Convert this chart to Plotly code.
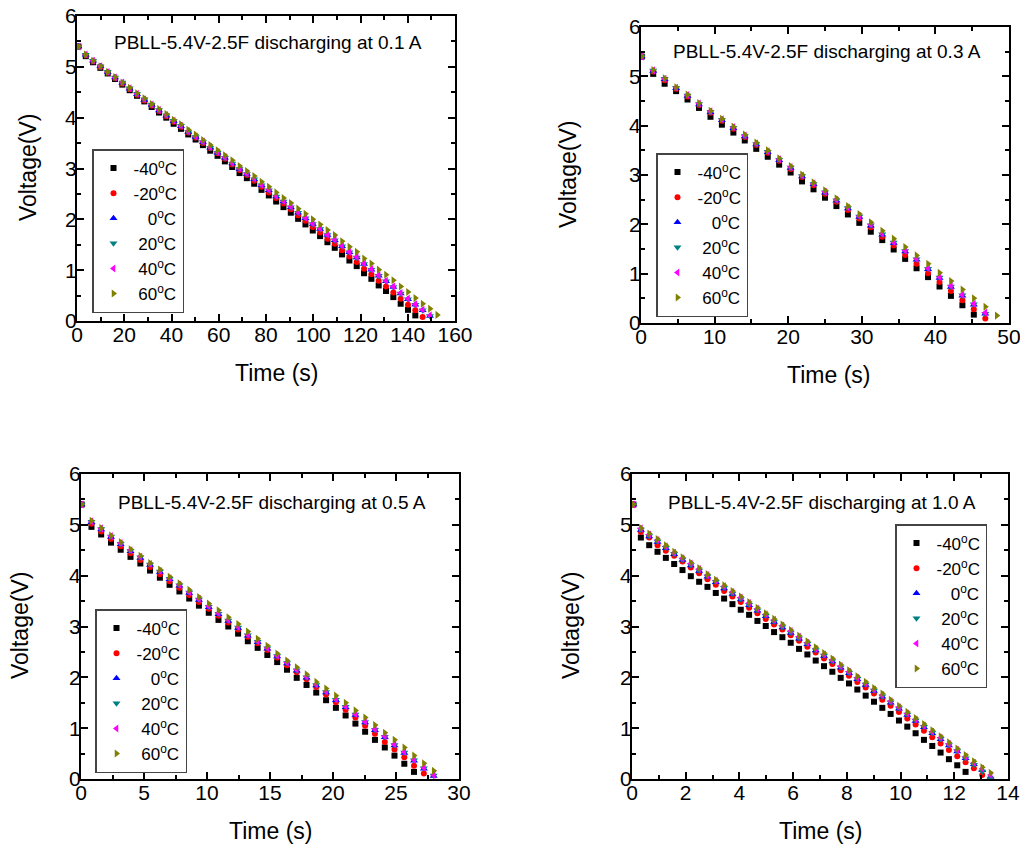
import plotly.graph_objects as go

# ---- data -------------------------------------------------------------------

TEMPS = ["-40", "-20", "0", "20", "40", "60"]
LEGEND_NAMES = [
    "-40<sup>o</sup>C",
    "-20<sup>o</sup>C",
    "\u00a0\u00a0\u00a00<sup>o</sup>C",
    "\u00a020<sup>o</sup>C",
    "\u00a040<sup>o</sup>C",
    "\u00a060<sup>o</sup>C",
]
CURRENTS = ["0.1", "0.3", "0.5", "1.0"]

# 0.1 A
T1 = [0.6, 3.7, 6.8, 9.9, 13.0, 16.1, 19.2, 22.3, 25.4, 28.5, 31.6, 34.7, 37.8, 40.9, 44.0, 47.1,
      50.2, 53.3, 56.4, 59.5, 62.6, 65.7, 68.8, 71.9, 75.0, 78.1, 81.2, 84.3, 87.4, 90.5, 93.6, 96.7,
      99.8, 102.9, 106.0, 109.1, 112.2, 115.3, 118.4, 121.5, 124.6, 127.7, 130.8, 133.9, 137.0,
      140.1, 143.2, 146.3, 149.4, 152.5]
V1_M40 = [5.40, 5.21, 5.09, 4.98, 4.87, 4.76, 4.65, 4.54, 4.43, 4.32, 4.21, 4.10, 4.00, 3.88, 3.78,
          3.67, 3.57, 3.46, 3.35, 3.25, 3.14, 3.03, 2.91, 2.81, 2.70, 2.58, 2.47, 2.35, 2.24, 2.13,
          2.01, 1.90, 1.78, 1.67, 1.55, 1.44, 1.31, 1.19, 1.08, 0.94, 0.83, 0.70, 0.59, 0.47, 0.34,
          0.22, 0.11]
V1_M20 = [5.40, 5.23, 5.11, 5.00, 4.89, 4.78, 4.67, 4.56, 4.45, 4.34, 4.24, 4.13, 4.03, 3.92, 3.82,
          3.71, 3.61, 3.50, 3.40, 3.30, 3.19, 3.08, 2.97, 2.87, 2.76, 2.64, 2.53, 2.42, 2.31, 2.20,
          2.08, 1.97, 1.85, 1.74, 1.62, 1.52, 1.39, 1.27, 1.16, 1.03, 0.92, 0.79, 0.68, 0.56, 0.44,
          0.32, 0.21, 0.08]
V1_0 = [5.40, 5.24, 5.12, 5.01, 4.90, 4.79, 4.68, 4.57, 4.46, 4.35, 4.25, 4.14, 4.04, 3.93, 3.83,
        3.72, 3.62, 3.52, 3.41, 3.31, 3.21, 3.10, 2.99, 2.89, 2.79, 2.67, 2.57, 2.45, 2.35, 2.24,
        2.13, 2.02, 1.91, 1.81, 1.69, 1.59, 1.47, 1.35, 1.25, 1.12, 1.01, 0.89, 0.78, 0.67, 0.54,
        0.43, 0.32, 0.21, 0.10]
V1_20 = [5.40, 5.24, 5.12, 5.01, 4.90, 4.79, 4.69, 4.58, 4.47, 4.36, 4.26, 4.15, 4.05, 3.94, 3.84,
         3.72, 3.62, 3.52, 3.41, 3.31, 3.21, 3.10, 2.99, 2.89, 2.79, 2.67, 2.57, 2.45, 2.35, 2.24,
         2.13, 2.02, 1.91, 1.81, 1.69, 1.59, 1.47, 1.35, 1.25, 1.12, 1.01, 0.89, 0.78, 0.67, 0.54,
         0.43, 0.32, 0.21, 0.10]
V1_40 = [5.40, 5.24, 5.12, 5.01, 4.90, 4.79, 4.69, 4.58, 4.47, 4.36, 4.26, 4.15, 4.05, 3.94, 3.84,
         3.73, 3.63, 3.53, 3.42, 3.32, 3.22, 3.11, 3.00, 2.90, 2.80, 2.68, 2.58, 2.46, 2.36, 2.25,
         2.14, 2.03, 1.92, 1.82, 1.70, 1.60, 1.48, 1.36, 1.26, 1.13, 1.02, 0.90, 0.79, 0.68, 0.55,
         0.44, 0.33, 0.22, 0.11]
V1_60 = [5.40, 5.24, 5.12, 5.01, 4.90, 4.80, 4.69, 4.59, 4.48, 4.38, 4.27, 4.17, 4.07, 3.96, 3.87,
         3.76, 3.67, 3.56, 3.46, 3.36, 3.26, 3.16, 3.05, 2.95, 2.85, 2.74, 2.64, 2.53, 2.42, 2.32,
         2.21, 2.11, 2.00, 1.90, 1.79, 1.69, 1.57, 1.46, 1.36, 1.23, 1.13, 1.01, 0.91, 0.80, 0.68,
         0.57, 0.45, 0.34, 0.24, 0.12]

# 0.3 A
T2 = [0.1, 1.66, 3.21, 4.77, 6.32, 7.88, 9.44, 10.99, 12.55, 14.10, 15.66, 17.22, 18.77, 20.33,
      21.88, 23.44, 25.00, 26.55, 28.11, 29.66, 31.22, 32.78, 34.33, 35.89, 37.44, 39.00, 40.56,
      42.11, 43.67, 45.22, 46.78, 48.34]
V2_M40 = [5.40, 5.05, 4.85, 4.70, 4.53, 4.36, 4.18, 4.02, 3.86, 3.70, 3.53, 3.37, 3.21, 3.05, 2.87,
          2.71, 2.54, 2.37, 2.20, 2.03, 1.85, 1.68, 1.49, 1.30, 1.11, 0.93, 0.74, 0.55, 0.36, 0.17]
V2_M20 = [5.40, 5.10, 4.92, 4.75, 4.59, 4.42, 4.26, 4.10, 3.94, 3.77, 3.61, 3.45, 3.29, 3.12, 2.96,
          2.79, 2.62, 2.46, 2.29, 2.12, 1.94, 1.75, 1.57, 1.38, 1.20, 1.01, 0.83, 0.65, 0.46, 0.28,
          0.09]
V2_0 = [5.40, 5.11, 4.94, 4.76, 4.60, 4.43, 4.27, 4.11, 3.95, 3.78, 3.62, 3.46, 3.30, 3.14, 2.97,
        2.81, 2.64, 2.48, 2.32, 2.15, 1.97, 1.79, 1.62, 1.45, 1.28, 1.09, 0.91, 0.73, 0.55, 0.37,
        0.19]
V2_20 = [5.40, 5.12, 4.95, 4.77, 4.61, 4.44, 4.28, 4.12, 3.96, 3.79, 3.63, 3.47, 3.31, 3.15, 2.98,
         2.82, 2.65, 2.49, 2.33, 2.16, 1.98, 1.80, 1.63, 1.46, 1.29, 1.10, 0.92, 0.74, 0.56, 0.38,
         0.19]
V2_40 = [5.40, 5.12, 4.95, 4.77, 4.62, 4.45, 4.29, 4.13, 3.97, 3.80, 3.64, 3.48, 3.32, 3.16, 2.99,
         2.83, 2.66, 2.50, 2.34, 2.17, 1.99, 1.81, 1.64, 1.47, 1.30, 1.11, 0.93, 0.75, 0.57, 0.39,
         0.21]
V2_60 = [5.40, 5.13, 4.96, 4.78, 4.63, 4.46, 4.30, 4.14, 3.98, 3.82, 3.66, 3.50, 3.34, 3.18, 3.01,
         2.85, 2.69, 2.53, 2.37, 2.21, 2.04, 1.87, 1.71, 1.54, 1.37, 1.20, 1.02, 0.85, 0.68, 0.50,
         0.33, 0.15]

# 0.5 A
T3 = [0.05, 0.83, 1.60, 2.38, 3.15, 3.93, 4.71, 5.48, 6.26, 7.03, 7.81, 8.59, 9.36, 10.14, 10.91,
      11.69, 12.47, 13.24, 14.02, 14.79, 15.57, 16.35, 17.12, 17.90, 18.67, 19.45, 20.23, 21.00,
      21.78, 22.55, 23.33, 24.11, 24.88, 25.66, 26.43, 27.21, 27.99]
V3_M40 = [5.40, 4.96, 4.81, 4.65, 4.51, 4.37, 4.24, 4.10, 3.96, 3.82, 3.69, 3.55, 3.41, 3.27, 3.13,
          3.00, 2.86, 2.71, 2.58, 2.44, 2.30, 2.15, 1.99, 1.85, 1.70, 1.55, 1.40, 1.25, 1.09, 0.93,
          0.77, 0.62, 0.46, 0.30, 0.14]
V3_M20 = [5.40, 5.02, 4.87, 4.72, 4.58, 4.44, 4.31, 4.17, 4.03, 3.89, 3.76, 3.62, 3.48, 3.35, 3.21,
          3.08, 2.94, 2.80, 2.67, 2.54, 2.39, 2.24, 2.10, 1.96, 1.81, 1.66, 1.51, 1.36, 1.21, 1.05,
          0.89, 0.73, 0.58, 0.43, 0.26, 0.11]
V3_0 = [5.40, 5.05, 4.91, 4.76, 4.62, 4.48, 4.35, 4.21, 4.07, 3.93, 3.80, 3.66, 3.52, 3.38, 3.24,
        3.11, 2.97, 2.82, 2.69, 2.56, 2.41, 2.27, 2.13, 1.99, 1.84, 1.70, 1.55, 1.41, 1.26, 1.11,
        0.96, 0.82, 0.66, 0.51, 0.36, 0.20, 0.06]
V3_20 = [5.40, 5.06, 4.92, 4.77, 4.63, 4.49, 4.36, 4.22, 4.08, 3.94, 3.81, 3.67, 3.53, 3.39, 3.25,
         3.12, 2.98, 2.83, 2.70, 2.57, 2.42, 2.28, 2.14, 2.00, 1.85, 1.71, 1.56, 1.42, 1.27, 1.12,
         0.97, 0.83, 0.67, 0.52, 0.37, 0.21, 0.07]
V3_40 = [5.40, 5.07, 4.93, 4.78, 4.64, 4.50, 4.37, 4.23, 4.09, 3.95, 3.82, 3.68, 3.54, 3.40, 3.26,
         3.13, 2.99, 2.84, 2.71, 2.58, 2.43, 2.29, 2.15, 2.01, 1.86, 1.72, 1.57, 1.43, 1.28, 1.13,
         0.98, 0.84, 0.68, 0.53, 0.38, 0.22, 0.08]
V3_60 = [5.40, 5.08, 4.94, 4.79, 4.66, 4.52, 4.39, 4.25, 4.12, 3.98, 3.85, 3.72, 3.58, 3.45, 3.32,
         3.18, 3.05, 2.90, 2.76, 2.62, 2.47, 2.33, 2.20, 2.06, 1.91, 1.78, 1.64, 1.50, 1.35, 1.21,
         1.06, 0.91, 0.77, 0.62, 0.46, 0.31, 0.16]

# 1.0 A
T4 = [0.05, 0.33, 0.64, 0.95, 1.26, 1.57, 1.88, 2.19, 2.50, 2.81, 3.12, 3.43, 3.74, 4.05, 4.36,
      4.67, 4.98, 5.29, 5.60, 5.91, 6.22, 6.53, 6.84, 7.15, 7.46, 7.77, 8.08, 8.39, 8.70, 9.01,
      9.32, 9.63, 9.94, 10.25, 10.56, 10.87, 11.18, 11.49, 11.80, 12.11, 12.42, 12.73, 13.04, 13.35]
V4_M40 = [5.40, 4.75, 4.60, 4.47, 4.35, 4.23, 4.11, 3.99, 3.88, 3.78, 3.66, 3.55, 3.44, 3.33, 3.23,
          3.11, 3.01, 2.89, 2.79, 2.68, 2.56, 2.45, 2.33, 2.22, 2.11, 1.99, 1.88, 1.76, 1.64, 1.52,
          1.40, 1.28, 1.15, 1.03, 0.90, 0.77, 0.65, 0.52, 0.39, 0.27, 0.14]
V4_M20 = [5.40, 4.86, 4.75, 4.60, 4.49, 4.39, 4.28, 4.16, 4.05, 3.93, 3.82, 3.70, 3.59, 3.48, 3.37,
          3.26, 3.15, 3.04, 2.94, 2.83, 2.72, 2.60, 2.49, 2.37, 2.26, 2.14, 2.03, 1.91, 1.80, 1.68,
          1.56, 1.44, 1.32, 1.19, 1.07, 0.95, 0.82, 0.70, 0.57, 0.45, 0.33, 0.21, 0.08]
V4_0 = [5.40, 4.90, 4.77, 4.66, 4.54, 4.42, 4.31, 4.20, 4.09, 3.98, 3.87, 3.75, 3.64, 3.53, 3.42,
        3.31, 3.20, 3.09, 2.98, 2.87, 2.76, 2.65, 2.53, 2.42, 2.31, 2.19, 2.08, 1.96, 1.85, 1.73,
        1.62, 1.50, 1.38, 1.26, 1.14, 1.02, 0.90, 0.78, 0.66, 0.54, 0.41, 0.29, 0.17, 0.04]
V4_20 = [5.40, 4.91, 4.78, 4.67, 4.55, 4.43, 4.32, 4.21, 4.10, 3.99, 3.88, 3.76, 3.65, 3.54, 3.43,
         3.32, 3.21, 3.10, 2.99, 2.88, 2.77, 2.66, 2.54, 2.43, 2.32, 2.20, 2.09, 1.97, 1.86, 1.74,
         1.63, 1.51, 1.39, 1.27, 1.15, 1.03, 0.91, 0.79, 0.67, 0.55, 0.41, 0.28, 0.15, 0.01]
V4_40 = [5.40, 4.93, 4.81, 4.70, 4.58, 4.45, 4.34, 4.24, 4.13, 4.01, 3.90, 3.79, 3.68, 3.57, 3.46,
         3.35, 3.24, 3.13, 3.02, 2.91, 2.80, 2.68, 2.56, 2.45, 2.34, 2.22, 2.11, 1.99, 1.88, 1.76,
         1.65, 1.53, 1.41, 1.29, 1.17, 1.05, 0.93, 0.81, 0.69, 0.57, 0.44, 0.32, 0.20, 0.08]
V4_60 = [5.40, 4.94, 4.83, 4.72, 4.60, 4.47, 4.36, 4.26, 4.15, 4.03, 3.92, 3.81, 3.70, 3.59, 3.48,
         3.37, 3.26, 3.15, 3.04, 2.93, 2.82, 2.71, 2.59, 2.48, 2.37, 2.25, 2.14, 2.02, 1.91, 1.79,
         1.68, 1.56, 1.44, 1.32, 1.20, 1.08, 0.96, 0.84, 0.72, 0.60, 0.47, 0.35, 0.23, 0.12]

X_MAX = [160, 50, 30, 14]
X_DTICK = [20, 10, 5, 2]

# ---- styling -----------------------------------------------------------------

# the page body keeps its default 8px margin, so the figure is drawn 8px in
# from the window corner; positions below are window pixels of the reference
PAGE_MARGIN = 8
W, H = 1028 - 2 * PAGE_MARGIN, 852 - 2 * PAGE_MARGIN
FONT = "Liberation Sans, Arial, sans-serif"
COLOURS = ["#000000", "#ff0000", "#0000ff", "#008080", "#ff00ff", "#808000"]
SYMBOLS = ["square", "circle", "triangle-up", "triangle-down", "triangle-left", "triangle-right"]
SIZES = [6, 6, 7, 7, 7, 7]

# plot boxes in pixels: left, right, top, bottom
BOXES = [(77, 455, 16, 321), (641, 1009, 27, 323), (81, 459, 474, 779), (632, 1008, 474, 779)]
LEGEND_TOPLEFT = [(92, 149), (656, 153), (95, 609), (895, 524)]
TITLE_POS = [(268, 43), (827, 52), (272, 502), (822, 502)]
XTITLE_POS = [(276, 373), (828, 375), (270, 831), (820, 831)]
YTITLE_POS = [(28, 168), (568, 175), (20, 626), (571, 626)]


def px(x):
    return (x - PAGE_MARGIN) / W


def py(y):
    return 1 - (y - PAGE_MARGIN) / H


panels = [
    (T1, [V1_M40, V1_M20, V1_0, V1_20, V1_40, V1_60]),
    (T2, [V2_M40, V2_M20, V2_0, V2_20, V2_40, V2_60]),
    (T3, [V3_M40, V3_M20, V3_0, V3_20, V3_40, V3_60]),
    (T4, [V4_M40, V4_M20, V4_0, V4_20, V4_40, V4_60]),
]

fig = go.Figure()
layout = {}
annotations = []
for p, (times, series) in enumerate(panels):
    n = "" if p == 0 else str(p + 1)
    for name, values, colour, symbol, size in zip(LEGEND_NAMES, series, COLOURS, SYMBOLS, SIZES):
        fig.add_scatter(
            x=times[: len(values)],
            y=values,
            mode="markers",
            name=name,
            xaxis="x" + n,
            yaxis="y" + n,
            legend="legend" + n,
            marker=dict(color=colour, symbol=symbol, size=size, line=dict(width=0)),
        )

    left, right, top, bottom = BOXES[p]
    axis_style = dict(
        showline=True, linecolor="black", linewidth=2, mirror="ticks",
        ticks="inside", ticklen=7, tickwidth=1.5, tickcolor="black",
        showgrid=False, zeroline=False, tick0=0, ticklabelstandoff=-6, automargin=False,
        ticklabeloverflow="allow",
        tickfont=dict(family=FONT, size=21, color="black"),
    )
    layout["xaxis" + n] = dict(
        axis_style, domain=[px(left), px(right)], range=[0, X_MAX[p]], dtick=X_DTICK[p],
        anchor="y" + n,
        minor=dict(ticks="inside", ticklen=4, tickwidth=1.5, tickcolor="black", dtick=X_DTICK[p] / 2),
    )
    layout["yaxis" + n] = dict(
        axis_style, domain=[py(bottom), py(top)], range=[0, 6], dtick=1, anchor="x" + n,
        minor=dict(ticks="inside", ticklen=4, tickwidth=1.5, tickcolor="black", dtick=0.5),
    )
    lx, ly = LEGEND_TOPLEFT[p]
    layout["legend" + n] = dict(
        x=px(lx), y=py(ly), xanchor="left", yanchor="top",
        bordercolor="#444444", borderwidth=1.5, bgcolor="rgba(255,255,255,0)",
        font=dict(family=FONT, size=17, color="black"),
        itemwidth=30, tracegroupgap=0,
    )

    tx, ty = TITLE_POS[p]
    annotations.append(dict(
        text=f"PBLL-5.4V-2.5F discharging at {CURRENTS[p]} A", x=px(tx), y=py(ty),
        xref="paper", yref="paper", showarrow=False, xanchor="center", yanchor="middle",
        font=dict(family=FONT, size=19, color="black"),
    ))
    tx, ty = XTITLE_POS[p]
    annotations.append(dict(
        text="Time (s)", x=px(tx), y=py(ty), xref="paper", yref="paper", showarrow=False,
        xanchor="center", yanchor="middle", font=dict(family=FONT, size=23, color="black"),
    ))
    tx, ty = YTITLE_POS[p]
    annotations.append(dict(
        text="Voltage(V)", x=px(tx), y=py(ty), xref="paper", yref="paper", showarrow=False,
        xanchor="center", yanchor="middle", textangle=-90,
        font=dict(family=FONT, size=23, color="black"),
    ))

fig.update_layout(
    width=W, height=H, autosize=False,
    margin=dict(l=0, r=0, t=0, b=0),
    paper_bgcolor="white", plot_bgcolor="white",
    showlegend=True, annotations=annotations,
    **layout,
)
fig.write_html("out.html")
